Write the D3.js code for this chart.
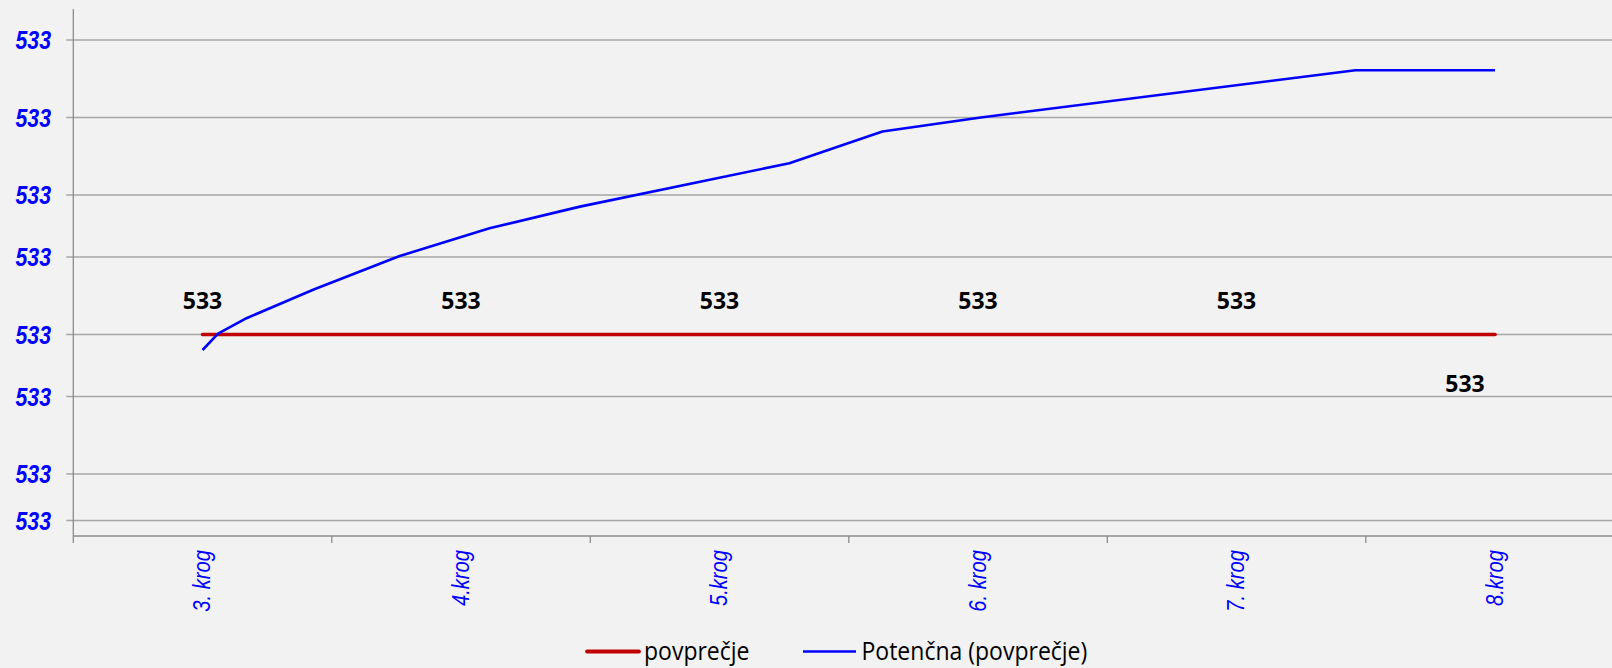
<!DOCTYPE html>
<html>
<head>
<meta charset="utf-8">
<script src="https://cdn.jsdelivr.net/npm/d3@7"></script>
<style>
  html, body { margin: 0; padding: 0; background: #F2F2F2; overflow: hidden; }
  svg { display: block; }
</style>
</head>
<body>
<svg id="chart" width="1612" height="668"></svg>
<script>
// ---- data ----
const categories = ["3. krog", "4.krog", "5.krog", "6. krog", "7. krog", "8.krog"];
const povprecje = [533.000, 533.000, 533.000, 533.000, 533.000, 533.000];
const dataLabels = ["533", "533", "533", "533", "533", "533"];
// power trendline (x in category units, 1 = first category)
const trendX = [1.00, 1.06, 1.17, 1.43, 1.76, 2.11, 2.46, 3.27, 3.63, 4.01, 5.46, 6.00];
const trendY = [532.9980, 533.0001, 533.0021, 533.0058, 533.0101, 533.0137, 533.0165, 533.0221, 533.0262, 533.0280, 533.0341, 533.0341];
const yTicks = [533.038, 533.028, 533.018, 533.010, 533.000, 532.992, 532.982, 532.976];
const yDomain = [532.974, 533.042];
const legendNames = ["povprečje", "Potenčna (povprečje)"];

// ---- layout ----
const svg = d3.select("#chart");
const pLeft = 73.3, bandW = 258.5;
const pRight = pLeft + categories.length * bandW;
const pTop = 9, pBottom = 536;

const x = d3.scaleBand().domain(categories).range([pLeft, pRight]).paddingInner(0).paddingOuter(0);
const xLin = d3.scaleLinear().domain([0.5, categories.length + 0.5]).range([pLeft, pRight]);
const y = d3.scaleLinear().domain(yDomain).range([pBottom, pTop]);

const RED = "#C00000", BLUE = "#0000FF", GRID = "#A6A6A6", AXIS = "#8C8C8C";

// gridlines + y labels
const yFmt = d3.format(".0f");
svg.selectAll("line.grid").data(yTicks).join("line")
  .attr("class", "grid")
  .attr("x1", pLeft - 7).attr("x2", 1612)
  .attr("y1", d => y(d)).attr("y2", d => y(d))
  .attr("stroke", GRID).attr("stroke-width", 1.3);
svg.selectAll("text.ylab").data(yTicks).join("text")
  .attr("class", "ylab")
  .attr("transform", d => `translate(51,${y(d)}) scale(0.82,1)`)
  .attr("dy", "0.36em")
  .attr("text-anchor", "end")
  .attr("font-family", "'Liberation Sans', Arial, sans-serif")
  .attr("font-size", 26).attr("font-weight", "bold").attr("font-style", "italic")
  .attr("fill", BLUE)
  .text(d => yFmt(d));

// y axis line
svg.append("line").attr("x1", pLeft).attr("x2", pLeft).attr("y1", pTop).attr("y2", pBottom + 7)
  .attr("stroke", AXIS).attr("stroke-width", 1.3);
// x axis line
svg.append("line").attr("x1", pLeft).attr("x2", 1612).attr("y1", pBottom).attr("y2", pBottom)
  .attr("stroke", AXIS).attr("stroke-width", 1.3);
// x ticks at category boundaries
const bounds = categories.map(c => x(c)).concat([pRight]).slice(1);
svg.selectAll("line.xt").data(bounds).join("line")
  .attr("class", "xt")
  .attr("x1", d => d).attr("x2", d => d).attr("y1", pBottom).attr("y2", pBottom + 7)
  .attr("stroke", AXIS).attr("stroke-width", 1.3);
// x labels
svg.selectAll("text.xlab").data(categories).join("text")
  .attr("class", "xlab")
  .attr("transform", d => `translate(${x(d) + x.bandwidth() / 2},550) rotate(-90) scale(0.84,1)`)
  .attr("dy", "0.33em")
  .attr("text-anchor", "end")
  .attr("font-family", "'Liberation Sans', Arial, sans-serif")
  .attr("font-size", 24).attr("font-style", "italic")
  .attr("fill", BLUE)
  .text(d => d);

// red series line
const cx = d => x(d) + x.bandwidth() / 2;
svg.append("path")
  .datum(categories.map((c, i) => [cx(c), y(povprecje[i])]))
  .attr("d", d3.line())
  .attr("fill", "none").attr("stroke", RED).attr("stroke-width", 3.6).attr("stroke-linecap", "round");

// blue trendline
svg.append("path")
  .datum(trendX.map((v, i) => [xLin(v), y(trendY[i])]))
  .attr("d", d3.line())
  .attr("fill", "none").attr("stroke", BLUE).attr("stroke-width", 2.6).attr("stroke-linejoin", "round");

// data labels
const lastI = categories.length - 1;
svg.selectAll("text.dl").data(categories).join("text")
  .attr("class", "dl")
  .attr("x", (d, i) => cx(d) - (i === lastI ? 30 : 0))
  .attr("y", (d, i) => y(povprecje[i]) + (i === lastI ? 57 : -25.5))
  .attr("text-anchor", "middle")
  .attr("font-family", "'Open Sans', sans-serif")
  .attr("font-size", 23).attr("font-weight", "bold")
  .attr("fill", "#000")
  .text((d, i) => dataLabels[i]);

// legend
const lg = svg.append("g");
lg.append("line").attr("x1", 587).attr("x2", 639).attr("y1", 651.5).attr("y2", 651.5)
  .attr("stroke", RED).attr("stroke-width", 3.8).attr("stroke-linecap", "round");
lg.append("text").attr("transform", "translate(644,660.3) scale(0.92,1)")
  .attr("font-family", "'Open Sans', sans-serif").attr("font-size", 25).attr("fill", "#000")
  .text(legendNames[0]);
lg.append("line").attr("x1", 803).attr("x2", 856).attr("y1", 651.5).attr("y2", 651.5)
  .attr("stroke", BLUE).attr("stroke-width", 2.6);
lg.append("text").attr("transform", "translate(861.5,660.3) scale(0.92,1)")
  .attr("font-family", "'Open Sans', sans-serif").attr("font-size", 25).attr("fill", "#000")
  .text(legendNames[1]);
</script>
</body>
</html>
